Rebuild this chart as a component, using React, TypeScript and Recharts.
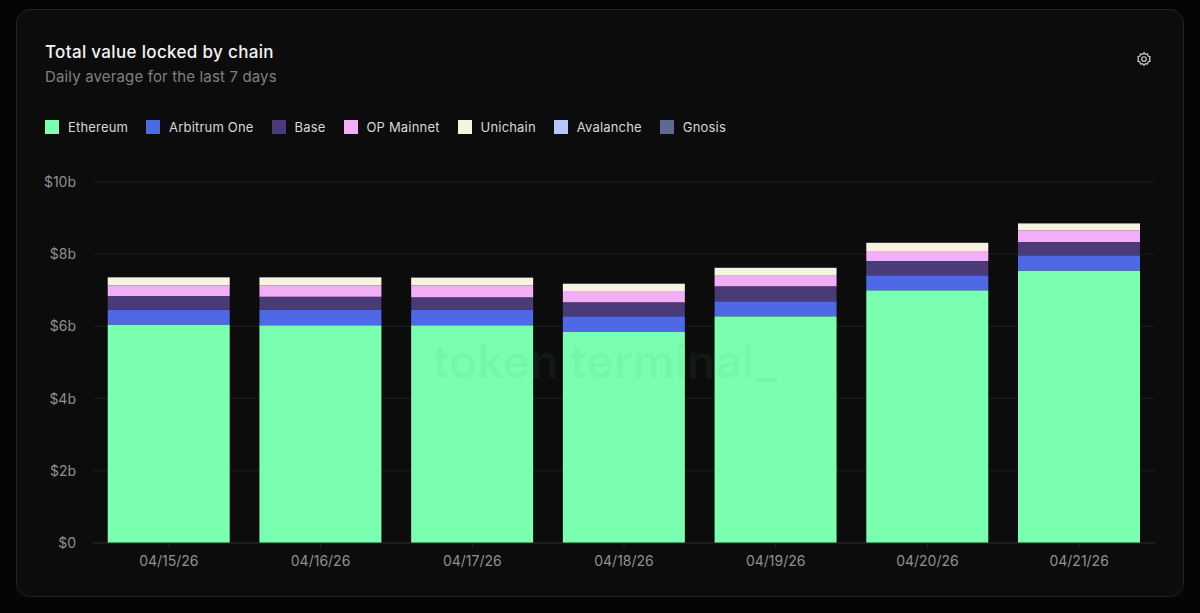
import { Bar, BarChart, CartesianGrid, Legend, XAxis, YAxis } from "recharts";

const dates = ["04/15/26", "04/16/26", "04/17/26", "04/18/26", "04/19/26", "04/20/26", "04/21/26"];
const ethereum = [6.05, 6.03, 6.03, 5.86, 6.28, 7.0, 7.55];
const arbitrumOne = [0.41, 0.44, 0.44, 0.42, 0.42, 0.42, 0.42];
const base = [0.38, 0.35, 0.34, 0.39, 0.41, 0.39, 0.37];
const opMainnet = [0.29, 0.31, 0.32, 0.31, 0.29, 0.28, 0.32];
const unichain = [0.23, 0.23, 0.22, 0.2, 0.22, 0.22, 0.19];
const avalanche = [0.004, 0.004, 0.004, 0.004, 0.004, 0.004, 0.004];
const gnosis = [0.002, 0.002, 0.002, 0.002, 0.002, 0.002, 0.002];
const yTicks = [0, 2, 4, 6, 8, 10];

const series = [
  { name: "Ethereum", values: ethereum, color: "#7affb0" },
  { name: "Arbitrum One", values: arbitrumOne, color: "#4f69e6" },
  { name: "Base", values: base, color: "#4a3a78" },
  { name: "OP Mainnet", values: opMainnet, color: "#f2aef6" },
  { name: "Unichain", values: unichain, color: "#f8f2e2" },
  { name: "Avalanche", values: avalanche, color: "#b4c6fb" },
  { name: "Gnosis", values: gnosis, color: "#5c6b8f" }
];

const data = dates.map((date, i) => {
  const row: Record<string, string | number> = { date };
  series.forEach((s) => {
    row[s.name] = s.values[i];
  });
  return row;
});

const font = "Inter, sans-serif";

function ChartLegend() {
  return (
    <div style={{ display: "flex", gap: 18, fontFamily: font, fontSize: 13, letterSpacing: 0.18, color: "#d8d8d8" }}>
      {series.map((s) => (
        <div key={s.name} style={{ display: "flex", alignItems: "center", gap: 9 }}>
          <span style={{ width: 14, height: 14, background: s.color, display: "block" }} />
          <span>{s.name}</span>
        </div>
      ))}
    </div>
  );
}

export default function App() {
  return (
    <div style={{ position: "absolute", left: 0, top: 0, width: 1200, height: 613, background: "#050505", overflow: "hidden" }}>
      <div
        style={{
          position: "absolute",
          left: 16,
          top: 9,
          width: 1168,
          height: 588,
          boxSizing: "border-box",
          background: "#0c0c0c",
          border: "1px solid #222222",
          borderRadius: 14
        }}
      />
      <div style={{ position: "absolute", left: 45, top: 42, fontFamily: font, fontSize: 17, letterSpacing: 0.33, fontWeight: 500, color: "#f4f4f4" }}>
        Total value locked by chain
      </div>
      <div style={{ position: "absolute", left: 45, top: 67, fontFamily: font, fontSize: 15, letterSpacing: 0.15, color: "#808080" }}>
        Daily average for the last 7 days
      </div>
      <svg
        style={{ position: "absolute", left: 1136, top: 51 }}
        width={16}
        height={16}
        viewBox="0 0 24 24"
        fill="none"
        stroke="#d0d0d0"
        strokeWidth={1.8}
      >
        <circle cx={12} cy={12} r={3.4} />
        <path d="M12 2.5l2 2.6 3.2-.6 1 3.1 3 1.3-.9 3.1.9 3.1-3 1.3-1 3.1-3.2-.6-2 2.6-2-2.6-3.2.6-1-3.1-3-1.3.9-3.1-.9-3.1 3-1.3 1-3.1 3.2.6z" />
      </svg>
      <div style={{ position: "absolute", left: 0, top: 0 }}>
        <BarChart
          width={1200}
          height={613}
          data={data}
          barCategoryGap="9.7%"
          margin={{ top: 182, right: 45, bottom: 16, left: 33 }}
        >
          <CartesianGrid vertical={false} stroke="#1e1e1e" />
          <XAxis
            dataKey="date"
            stroke="#262626"
            tickSize={5}
            tickMargin={8}
            height={38}
            tick={{ fill: "#909090", fontSize: 14, fontFamily: font }}
          />
          <YAxis
            width={60}
            domain={[0, 10]}
            ticks={yTicks}
            tickFormatter={(v: number) => (v === 0 ? "$0" : `$${v}b`)}
            axisLine={false}
            tickLine={false}
            tickMargin={17}
            tickSize={0}
            tick={{ fill: "#909090", fontSize: 14, fontFamily: font }}
          />
          <Legend
            content={<ChartLegend />}
            wrapperStyle={{ position: "absolute", left: 45, top: 119, width: "auto" }}
          />
          {series.map((s) => (
            <Bar key={s.name} dataKey={s.name} stackId="tvl" fill={s.color} isAnimationActive={false} />
          ))}
        </BarChart>
      </div>
      <div
        style={{
          position: "absolute",
          left: 433,
          top: 333,
          fontFamily: font,
          fontSize: 46.5,
          fontWeight: 600,
          color: "rgba(70,170,115,0.09)",
          pointerEvents: "none",
          whiteSpace: "nowrap"
        }}
      >
        token terminal_
      </div>
    </div>
  );
}
